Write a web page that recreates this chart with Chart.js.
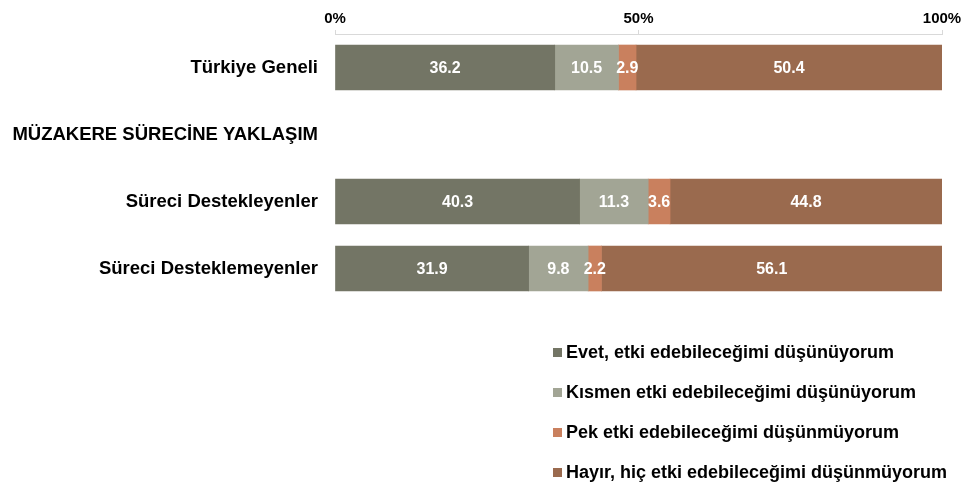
<!DOCTYPE html>
<html><head><meta charset="utf-8">
<script src="https://cdn.jsdelivr.net/npm/chart.js@4/dist/chart.umd.min.js"></script>
<style>
html,body{margin:0;padding:0;background:#fff;}
#wrap{position:relative;width:964px;height:485px;}
#c{position:absolute;left:0;top:0;}
#legend{position:absolute;left:553px;top:332px;font-family:"Liberation Sans",Arial,sans-serif;font-weight:bold;font-size:18px;color:#000;}
#legend div{height:40px;display:flex;align-items:center;white-space:nowrap;margin:0;}
#legend span.b{display:inline-block;width:9px;height:9px;margin-right:4px;}
</style></head>
<body>
<div id="wrap"><canvas id="c" width="964" height="485"></canvas><div id="legend"></div></div>
<script>
const categories = ['Türkiye Geneli', 'MÜZAKERE SÜRECİNE YAKLAŞIM', 'Süreci Destekleyenler', 'Süreci Desteklemeyenler'];
const seriesNames = ['Evet, etki edebileceğimi düşünüyorum', 'Kısmen etki edebileceğimi düşünüyorum', 'Pek etki edebileceğimi düşünmüyorum', 'Hayır, hiç etki edebileceğimi düşünmüyorum'];
const evet   = [36.2, null, 40.3, 31.9];
const kismen = [10.5, null, 11.3, 9.8];
const pek    = [2.9,  null, 3.6,  2.2];
const hayir  = [50.4, null, 44.8, 56.1];
const tickValues = [0, 50, 100];
const colors = ['#737565', '#a2a595', '#c9805e', '#9a6a4e'];

const seriesValues = [evet, kismen, pek, hayir];
const FONT = '"Liberation Sans", Arial, sans-serif';

const valueLabels = {
  id: 'valueLabels',
  afterDatasetsDraw(chart) {
    const ctx = chart.ctx;
    ctx.save();
    ctx.fillStyle = '#fff';
    ctx.font = 'bold 16px ' + FONT;
    ctx.textAlign = 'center';
    ctx.textBaseline = 'middle';
    chart.data.datasets.forEach((ds, i) => {
      const meta = chart.getDatasetMeta(i);
      meta.data.forEach((bar, j) => {
        const v = ds.data[j];
        if (v == null) return;
        const x = (bar.x + bar.base) / 2;
        ctx.fillText(v.toFixed(1), x, bar.y + 1);
      });
    });
    ctx.restore();
  }
};

new Chart(document.getElementById('c'), {
  type: 'bar',
  data: {
    labels: categories,
    datasets: seriesValues.map((vals, i) => ({
      label: seriesNames[i],
      data: vals,
      backgroundColor: colors[i],
      borderWidth: 0,
      barThickness: 45
    }))
  },
  options: {
    indexAxis: 'y',
    responsive: false,
    animation: false,
    layout: { padding: { left: 0, right: 22, top: 0, bottom: 183 } },
    plugins: { legend: { display: false }, tooltip: { enabled: false } },
    scales: {
      x: {
        position: 'top',
        stacked: true,
        min: 0, max: 100,
        afterBuildTicks(scale) { scale.ticks = tickValues.map(v => ({ value: v })); },
        afterFit(scale) { scale.height = 34; },
        ticks: {
          callback: v => v + '%',
          font: { family: FONT, weight: 'bold', size: 15 },
          color: '#000',
          padding: 2,
          maxRotation: 0
        },
        grid: { drawOnChartArea: false, drawTicks: true, tickLength: 4, color: '#d9d9d9' },
        border: { display: true, color: '#d9d9d9' }
      },
      y: {
        stacked: true,
        afterFit(scale) { scale.width = 335; },
        ticks: {
          font: { family: FONT, weight: 'bold', size: 18.5 },
          color: '#000',
          padding: 9
        },
        grid: { display: false },
        border: { display: false }
      }
    }
  },
  plugins: [valueLabels]
});

const lg = document.getElementById('legend');
seriesNames.forEach((n, i) => {
  const d = document.createElement('div');
  const b = document.createElement('span');
  b.className = 'b';
  b.style.background = colors[i];
  d.appendChild(b);
  d.appendChild(document.createTextNode(n));
  lg.appendChild(d);
});
</script>
</body></html>
